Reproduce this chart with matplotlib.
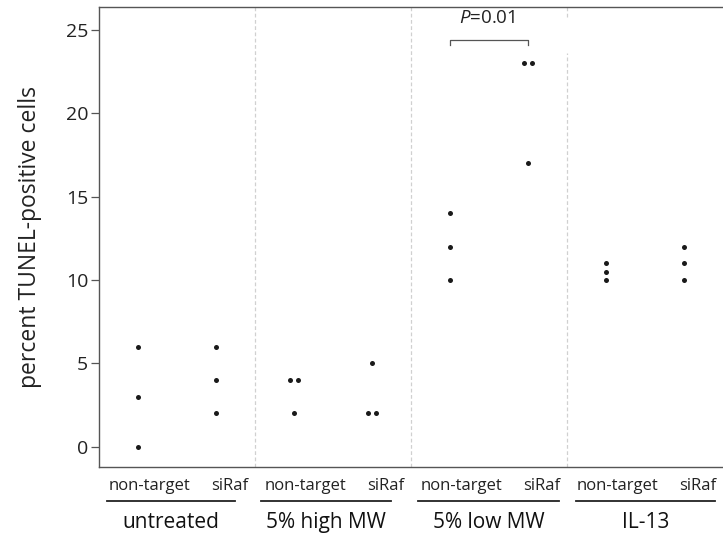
import matplotlib
matplotlib.use("Agg")
import matplotlib.pyplot as plt
import matplotlib.transforms as mtransforms
import numpy as np

plt.rcParams['font.family'] = ['Open Sans', 'DejaVu Sans']
plt.rcParams['mathtext.fontset'] = 'custom'
plt.rcParams['mathtext.it'] = 'Open Sans:italic'
plt.rcParams['mathtext.rm'] = 'Open Sans'

# treatment groups and siRNA conditions
groups = ["untreated", "5% high MW", "5% low MW", "IL-13"]
conditions = ["non-target", "siRaf"]

# percent TUNEL-positive cells, one list per group and condition
untreated_nt = [0, 3, 6]
untreated_siraf = [2, 4, 6]
highmw_nt = [4, 4, 2]
highmw_siraf = [5, 2, 2]
lowmw_nt = [10, 12, 14]
lowmw_siraf = [17, 23, 23]
il13_nt = [10, 10.5, 11]
il13_siraf = [10, 11, 12]

values = [
    [untreated_nt, untreated_siraf],
    [highmw_nt, highmw_siraf],
    [lowmw_nt, lowmw_siraf],
    [il13_nt, il13_siraf],
]
p_label = "0.01"

W, H = 723, 540
fig = plt.figure(figsize=(W / 100, H / 100), dpi=100)
ax = fig.add_axes([99.3 / W, 73.3 / H, (W - 99.3) / W, 460 / H])

spine_col = "#555555"
dot_col = "#1a1a1a"
pos = [0.25, 0.75]   # position of each condition inside a group
jit = 0.027

for g, pair in enumerate(values):
    for c, vals in enumerate(pair):
        vals = np.asarray(vals, dtype=float)
        xs = np.full(len(vals), g + pos[c])
        for v in np.unique(vals):
            idx = np.where(vals == v)[0]
            if len(idx) > 1:
                xs[idx] += (np.arange(len(idx)) - (len(idx) - 1) / 2) * 2 * jit
        ax.plot(xs, vals, "o", color=dot_col, ms=3.6, mec="none", zorder=3)

# dashed dividers between the groups
div_kw = dict(color="#d0d0d0", ls=(0, (3, 2)), lw=0.9, zorder=1)
for g in range(1, len(groups)):
    if g == 3:
        ax.axvline(g, ymin=0, ymax=(H - 53 - 73.3) / 460, **div_kw)
        ax.axvline(g, ymin=(H - 17 - 73.3) / 460, ymax=1, **div_kw)
    else:
        ax.axvline(g, **div_kw)

ax.set_xlim(0, 4)
ax.set_ylim(-1.2, 26.4)
ax.set_yticks([0, 5, 10, 15, 20, 25])
ax.set_xticks([])
ax.tick_params(axis="y", length=6, width=0.9, color=spine_col, labelsize=14,
               pad=2, labelcolor="#222222")
for s in ["left", "top", "bottom"]:
    ax.spines[s].set_color(spine_col)
    ax.spines[s].set_linewidth(1.0)
ax.spines["right"].set_visible(False)

ax.set_ylabel("percent TUNEL-positive cells", fontsize=16.5, color="#222222")
ax.yaxis.set_label_coords((42 - 99.3) / (W - 99.3), 0.5)

# labels under the axis
trans = mtransforms.blended_transform_factory(ax.transData, ax.transAxes)
lab_pos = [0.325, 0.835]
under = [(0.05, 0.87), (0.04, 0.87), (0.045, 0.95), (0.06, 0.95)]
for g, name in enumerate(groups):
    for c, cond in enumerate(conditions):
        ax.text(g + lab_pos[c], -0.041, cond, transform=trans, ha="center",
                va="center", fontsize=12, color="#222222", clip_on=False)
    x0, x1 = under[g]
    ax.plot([g + x0, g + x1], [-0.074, -0.074], transform=trans, color="#222222",
            lw=1.3, clip_on=False)
    ax.text(g + (x0 + x1) / 2, -0.121, name, transform=trans, ha="center",
            va="center", fontsize=15, color="#111111", clip_on=False)

# significance bracket for 5% low MW
bx0, bx1 = 2 + pos[0], 2 + pos[1]
ax.plot([bx0, bx0, bx1, bx1], [24.1, 24.4, 24.4, 24.1], color=spine_col, lw=0.9)
ax.text((bx0 + bx1) / 2 - 0.01, 25.7, "$P$=" + p_label, ha="center", va="center",
        fontsize=13.5, color="#222222")

fig.savefig("out.png", dpi=100)
